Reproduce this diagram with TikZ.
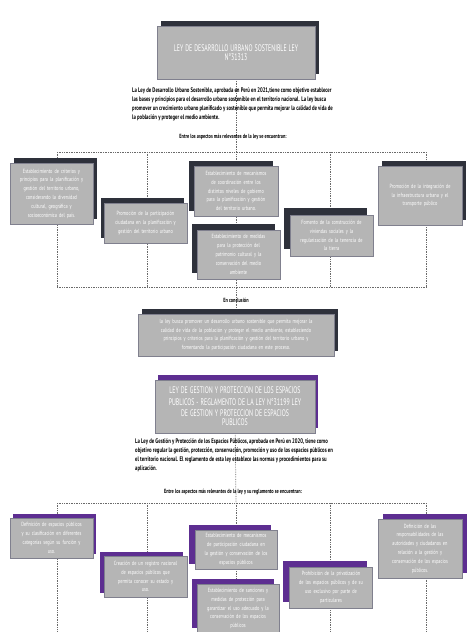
\documentclass[tikz,border=0pt]{standalone}
\usepackage{fontspec}
\setmainfont{PT Sans}[FakeStretch=0.72]
\newfontfamily\titulofont{PT Sans}[FakeStretch=0.62]
\usepackage{tikz}
\definecolor{cgris}{HTML}{B5B5B5}
\definecolor{cborde}{HTML}{80808E}
\definecolor{coscuro}{HTML}{2E313B}
\definecolor{cmorado}{HTML}{5D2E91}
\definecolor{clinea}{HTML}{6A6A6A}
\pgfdeclarelayer{lineas}
\pgfdeclarelayer{sombras}
\pgfsetlayers{lineas,sombras,main}
\newcommand{\tfuente}{\titulofont\fontsize{9.5}{11.5}\selectfont}
\newcommand{\caja}[9]{% name, cx, cy, width, height, dx, dy, shadow color, text
  \pgfmathsetmacro\anchotxt{#4-8}
  \node[caja, minimum width=#4pt, minimum height=#5pt, text width=\anchotxt pt] (#1) at (#2,#3) {#9};
  \begin{pgfonlayer}{sombras}
    \fill[#8] ([shift={(#6,#7)}]#1.south west) rectangle ([shift={(#6,#7)}]#1.north east);
  \end{pgfonlayer}}
\tikzset{
  caja/.style={fill=cgris, draw=cborde, line width=0.6pt, text=white, align=center,
               font=\fontsize{6}{8.8}\selectfont, inner sep=2pt},
  parrafo/.style={align=left, font=\bfseries\fontsize{6.6}{8.8}\selectfont, inner sep=0pt,
                  anchor=north west},
  rotulo/.style={font=\bfseries\fontsize{6}{7}\selectfont, inner sep=1pt},
  linea/.style={draw=clinea, densely dotted, line width=0.7pt},
}

\begin{document}
\begin{tikzpicture}[x=1pt, y=-1pt]
  \useasboundingbox (0,0) rectangle (474,632);

  % --- ley de desarrollo urbano -----------------------------------------
  \caja{titulo1}{236}{52.5}{158}{53}{4}{-5}{coscuro}{\tfuente LEY DE DESARROLLO URBANO SOSTENIBLE LEY\\N°31313}
  \node[parrafo] (intro1) at (132,88) {La Ley de Desarrollo Urbano Sostenible, aprobada en Perú en 2021,tiene como objetivo establecer\\
    las bases y principios para el desarrollo urbano sostenible en el territorio nacional. La ley busca\\
    promover un crecimiento urbano planificado y sostenible que permita mejorar la calidad de vida de\\
    la población y proteger el medio ambiente.};
  \node[rotulo] (entre1) at (233,137) {Entre los aspectos más relevantes de la ley se encuentran:};

  \caja{b1}{51.5}{193.5}{83}{61}{4}{-5}{coscuro}{Establecimiento de criterios y\\principios para la planificación y\\gestión del territorio urbano,\\considerando la diversidad\\cultural, geográfica y\\socioeconómica del país.}
  \caja{b2}{145.5}{223}{83}{40}{-3}{-5}{coscuro}{Promoción de la participación\\ciudadana en la planificación y\\gestión del territorio urbano}
  \caja{b3}{236}{191}{84}{50}{-5}{-5}{coscuro}{Establecimiento de mecanismos\\de coordinación entre los\\distintos niveles de gobierno\\para la planificación y gestión\\del territorio urbano.}
  \caja{b4}{238.5}{254.5}{83}{49}{-5}{-6}{coscuro}{Establecimiento de medidas\\para la protección del\\patrimonio cultural y la\\conservación del medio\\ambiente}
  \caja{b5}{331.5}{235.5}{83}{41}{-6}{-7}{coscuro}{Fomento de la construcción de\\viviendas sociales y la\\regularización de la tenencia de\\la tierra}
  \caja{b6}{420}{195.5}{84}{59}{4}{-5}{coscuro}{Promoción de la integración de\\la infraestructura urbana y el\\transporte público}

  \node[rotulo] (enconc) at (236,300) {En conclusión};
  \caja{conclusion}{236}{335}{196}{42}{4}{-5}{coscuro}{la ley busca promover un desarrollo urbano sostenible que permita mejorar la\\calidad de vida de la población y proteger el medio ambiente, estableciendo\\principios y criterios para la planificación y gestión del territorio urbano y\\fomentando la participación ciudadana en este proceso.}

  % --- ley de espacios publicos -----------------------------------------
  \caja{titulo2}{235}{406.5}{160}{53}{3}{-5}{cmorado}{\tfuente LEY DE GESTION Y PROTECCION DE LOS ESPACIOS\\PUBLICOS - REGLAMENTO DE LA LEY N°31199 LEY\\DE GESTION Y PROTECCION DE ESPACIOS\\PUBLICOS}
  \node[parrafo] (intro2) at (135,439) {La Ley de Gestión y Protección de los Espacios Públicos, aprobada en Perú en 2020, tiene como\\
    objetivo regular la gestión, protección, conservación, promoción y uso de los espacios públicos en\\
    el territorio nacional. El reglamento de esta ley establece las normas y procedimientos para su\\
    aplicación.};
  \node[rotulo] (entre2) at (233,492) {Entre los aspectos más relevantes de la ley y su reglamento se encuentran:};

  \caja{c1}{51.5}{538}{83}{40}{3}{-4}{cmorado}{Definición de espacios públicos\\y su clasificación en diferentes\\categorías según su función y\\uso.}
  \caja{c2}{145.5}{576.5}{83}{41}{-4}{-4}{cmorado}{Creación de un registro nacional\\de espacios públicos que\\permita conocer su estado y\\uso.}
  \caja{c3}{236}{549.5}{82}{39}{-6}{-5}{cmorado}{Establecimiento de mecanismos\\de participación ciudadana en\\la gestión y conservación de los\\espacios públicos}
  \caja{c4}{238}{608.5}{82}{49}{-5}{-5}{cmorado}{Establecimiento de sanciones y\\medidas de protección para\\garantizar el uso adecuado y la\\conservación de los espacios\\públicos}
  \caja{c5}{331}{587.5}{83}{41}{-6}{-6}{cmorado}{Prohibición de la privatización\\de los espacios públicos y de su\\uso exclusivo por parte de\\particulares}
  \caja{c6}{420}{548.5}{84}{59}{5}{-5}{cmorado}{Definición de las\\responsabilidades de las\\autoridades y ciudadanos en\\relación a la gestión y\\conservación de los espacios\\públicos.}

  % --- lineas punteadas ---------------------------------------------------
  \foreach \x [count=\i] in {57,147,236,330,426} {
    \coordinate (arr\i) at (\x,152);
    \coordinate (aba\i) at (\x,287);
    \coordinate (sup\i) at (\x,503);
    \coordinate (inf\i) at (\x,632);
  }
  \begin{pgfonlayer}{lineas}
    \draw[linea] (titulo1) -- (conclusion);
    \draw[linea] (arr1) -- (arr5);
    \draw[linea] (aba1) -- (aba5);
    \foreach \i in {1,2,4,5} \draw[linea] (arr\i) -- (aba\i);
    \draw[linea] (titulo2) -- (sup3);
    \draw[linea] (sup1) -- (sup5);
    \foreach \i in {1,...,5} \draw[linea] (sup\i) -- (inf\i);
  \end{pgfonlayer}
\end{tikzpicture}
\end{document}
